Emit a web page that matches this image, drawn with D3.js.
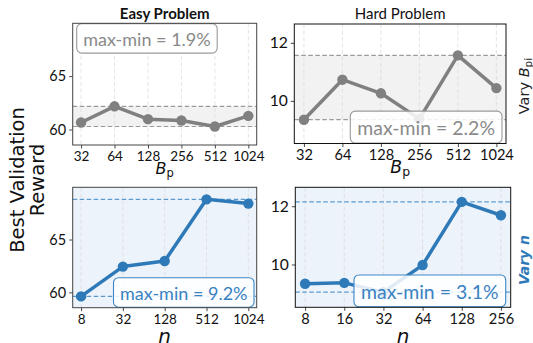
<!DOCTYPE html>
<html>
<head>
<meta charset="utf-8">
<script src="https://cdn.jsdelivr.net/npm/d3@7"></script>
<style>
  body { margin: 0; background: #fff; }
  svg { display: block; font-family: "DejaVu Sans", sans-serif; }
</style>
</head>
<body>
<div id="chart"></div>
<script>
// tick labels / categories
var bpLabels = ["32", "64", "128", "256", "512", "1024"];
var nEasyLabels = ["8", "32", "128", "512", "1024"];
var nHardLabels = ["8", "16", "32", "64", "128", "256"];

// best validation reward (%)
var easyVaryBp = [60.66, 62.17, 60.97, 60.84, 60.28, 61.28];
var hardVaryBp = [9.35, 10.73, 10.26, 9.38, 11.57, 10.44];
var easyVaryN = [59.62, 62.44, 62.97, 68.80, 68.40];
var hardVaryN = [9.34, 9.37, 9.05, 9.98, 12.15, 11.69];

var leftTicks = [60, 65];
var rightTicks = [10, 12];

var gray = "#808080", blue = "#2e7ab8";
var sans = "Lato, 'DejaVu Sans', sans-serif";

var svg = d3.select("#chart").append("svg")
    .attr("width", 533).attr("height", 343);

// panel setup, one per subplot
var panels = [
  {x0: 72.7, x1: 256.7, y0: 23.3, y1: 145, labels: bpLabels, values: easyVaryBp,
   yDomain: [58.55, 69.94], ticks: leftTicks, color: gray, kind: "bp", fs: 1.0,
   title: "Easy Problem", titleWeight: "bold", box: "tl"},
  {x0: 294.3, x1: 506, y0: 24, y1: 143.5, labels: bpLabels, values: hardVaryBp,
   yDomain: [8.53, 12.65], ticks: rightTicks, color: gray, kind: "bp", fs: 1.08,
   title: "Hard Problem", titleWeight: "normal", box: "br", boxPad: 4},
  {x0: 72.7, x1: 256.7, y0: 187.3, y1: 307.7, labels: nEasyLabels, values: easyVaryN,
   yDomain: [58.55, 69.94], ticks: leftTicks, color: blue, kind: "n", fs: 1.0, box: "br", boxPad: 2.7},
  {x0: 295.3, x1: 510.7, y0: 187.3, y1: 307.3, labels: nHardLabels, values: hardVaryN,
   yDomain: [8.53, 12.65], ticks: rightTicks, color: blue, kind: "n", fs: 1.08, box: "br", boxPad: 5}
];

panels.forEach(function(p) {
    var n = p.values.length;
    var m = n == 5 ? 0.2 : 0.25;
    var x = d3.scaleLinear().domain([-m, n - 1 + m]).range([p.x0, p.x1]);
    var y = d3.scaleLinear().domain(p.yDomain).range([p.y1, p.y0]);
    var lo = d3.min(p.values), hi = d3.max(p.values);
    var w = p.x1 - p.x0, h = p.y1 - p.y0;

    var g = svg.append("g");

    // background / band
    if (p.kind == "n") {
        g.append("rect").attr("x", p.x0).attr("y", p.y0).attr("width", w).attr("height", h)
            .attr("fill", "#edf3fa");
    } else {
        g.append("rect").attr("x", p.x0).attr("y", y(hi)).attr("width", w)
            .attr("height", y(lo) - y(hi)).attr("fill", "#f2f2f2");
    }

    // vertical grid
    g.selectAll(".vgrid").data(p.labels).enter().append("line")
        .attr("x1", function(d, i) { return x(i); })
        .attr("x2", function(d, i) { return x(i); })
        .attr("y1", p.y0).attr("y2", p.y1)
        .attr("stroke", "#dcdcdc").attr("stroke-width", 0.8)
        .attr("stroke-dasharray", "4,2.5");

    // min / max dashed lines
    var dashCol = p.kind == "n" ? "#5b9bd0" : "#9a9a9a";
    [lo, hi].forEach(function(v) {
        g.append("line").attr("x1", p.x0).attr("x2", p.x1)
            .attr("y1", y(v)).attr("y2", y(v))
            .attr("stroke", dashCol).attr("stroke-width", 1.2)
            .attr("stroke-dasharray", "4.5,2.5");
    });

    // line + markers
    g.append("path").datum(p.values)
        .attr("fill", "none").attr("stroke", p.color).attr("stroke-width", 3.5)
        .attr("stroke-linejoin", "round")
        .attr("d", d3.line()
            .x(function(d, i) { return x(i); })
            .y(function(d) { return y(d); }));
    g.selectAll(".dot").data(p.values).enter().append("circle")
        .attr("cx", function(d, i) { return x(i); })
        .attr("cy", function(d) { return y(d); })
        .attr("r", 5.2).attr("fill", p.color);

    // max-min box
    var label = "max-min = " + (Math.round((hi - lo) * 10) / 10).toFixed(1) + "%";
    var boxCol = p.kind == "n" ? "#3d87c4" : "#9a9a9a";
    var txtCol = p.kind == "n" ? "#3a82c2" : "#8a8a8a";
    var bg = g.append("g");
    var rect = bg.append("rect");
    var t = bg.append("text").text(label)
        .style("font-family", sans)
        .attr("font-size", 18 * p.fs).attr("fill", txtCol)
        .attr("dominant-baseline", "central");
    var tw = t.node().getComputedTextLength();
    var bw = tw + 13 * p.fs, bh = 29.5 * p.fs;
    var bx, by;
    if (p.box == "tl") { bx = p.x0 + 4; by = p.y0 + 0.3; }
    else { bx = p.x1 - p.boxPad - bw; by = p.y1 - bh - 0.5; }
    rect.attr("x", bx).attr("y", by).attr("width", bw).attr("height", bh)
        .attr("rx", 5).attr("fill", "#fff").attr("fill-opacity", 0.85)
        .attr("stroke", boxCol).attr("stroke-width", 1.1);
    t.attr("x", bx + (bw - tw) / 2).attr("y", by + bh / 2 + 0.5);

    // axes
    var xAxis = d3.axisBottom(x).tickValues(d3.range(n))
        .tickFormat(function(i) { return p.labels[i]; })
        .tickSize(3.5).tickPadding(3);
    var gx = svg.append("g").attr("transform", "translate(0," + p.y1 + ")").call(xAxis);
    gx.selectAll("text").attr("font-size", 13.5 * p.fs).attr("fill", "#111")
        .style("font-family", sans);
    var yAxis = d3.axisLeft(y).tickValues(p.ticks).tickFormat(d3.format("d"))
        .tickSize(3.5).tickPadding(3);
    var gy = svg.append("g").attr("transform", "translate(" + p.x0 + ",0)").call(yAxis);
    gy.selectAll("text").attr("font-size", 14.5 * p.fs).attr("fill", "#111")
        .style("font-family", sans);
    [gx, gy].forEach(function(a) {
        a.select(".domain").remove();
        a.selectAll("line").attr("stroke", "#333").attr("stroke-width", 0.9);
    });

    // frame
    svg.append("rect").attr("x", p.x0).attr("y", p.y0).attr("width", w).attr("height", h)
        .attr("fill", "none").attr("stroke", p.fs == 1 ? "#444" : "#111").attr("stroke-width", 1);

    // titles and axis labels
    var cx = (p.x0 + p.x1) / 2;
    if (p.title) {
        svg.append("text").attr("x", cx).attr("y", 19).attr("text-anchor", "middle")
            .style("font-family", sans).attr("font-weight", p.titleWeight)
            .attr("font-size", 15).attr("fill", "#111").text(p.title);
    }
    if (p.kind == "bp") {
        var xl = svg.append("text").attr("x", cx).attr("y", 174 - (p.fs - 1) * 10)
            .attr("text-anchor", "middle").attr("font-size", 16 * p.fs).attr("fill", "#111");
        xl.append("tspan").attr("font-style", "italic").text("B");
        xl.append("tspan").attr("font-size", 11.5 * p.fs).attr("dy", 3).text("p");
    } else {
        svg.append("text").attr("x", cx).attr("y", 342.5).attr("text-anchor", "middle")
            .attr("font-style", "italic").attr("font-size", 20).attr("fill", "#111").text("n");
    }
});

// shared y label
var yl = svg.append("text").attr("transform", "translate(24,180) rotate(-90)")
    .attr("text-anchor", "middle").attr("font-size", 19.5).attr("fill", "#111");
yl.append("tspan").attr("x", 0).attr("dy", 0).text("Best Validation");
yl.append("tspan").attr("x", 0).attr("dy", 20).text("Reward");

// row labels on the right
var r1 = svg.append("text").attr("transform", "translate(529,86) rotate(-90)")
    .attr("text-anchor", "middle").attr("font-size", 14.5).attr("fill", "#222");
r1.append("tspan").text("Vary ");
r1.append("tspan").attr("font-style", "italic").text("B");
r1.append("tspan").attr("font-size", 10.5).attr("dy", 3).text("pi");

svg.append("text").attr("transform", "translate(529,260) rotate(-90)")
    .attr("text-anchor", "middle").attr("font-size", 14).attr("font-weight", "bold")
    .attr("font-style", "italic").attr("fill", blue).text("Vary n");
</script>
</body>
</html>
